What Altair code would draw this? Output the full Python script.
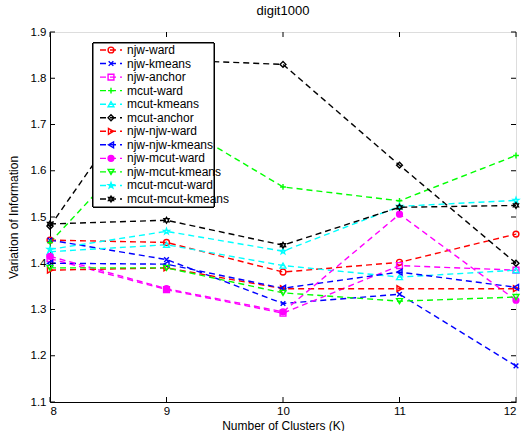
import math
import altair as alt
import pandas as pd

# ---------------- data ----------------
clusters = [8, 9, 10, 11, 12]
series_names = ["njw-ward", "njw-kmeans", "njw-anchor", "mcut-ward", "mcut-kmeans",
                "mcut-anchor", "njw-njw-ward", "njw-njw-kmeans", "njw-mcut-ward",
                "njw-mcut-kmeans", "mcut-mcut-ward", "mcut-mcut-kmeans"]
njw_ward = [1.450, 1.445, 1.381, 1.402, 1.463]
njw_kmeans = [1.450, 1.408, 1.313, 1.333, 1.178]
njw_anchor = [1.410, 1.343, 1.292, 1.395, 1.385]
mcut_ward = [1.445, 1.715, 1.565, 1.535, 1.633]
mcut_kmeans = [1.425, 1.440, 1.395, 1.370, 1.385]
mcut_anchor = [1.480, 1.840, 1.830, 1.612, 1.400]
njw_njw_ward = [1.385, 1.390, 1.345, 1.345, 1.345]
njw_njw_kmeans = [1.400, 1.398, 1.346, 1.381, 1.348]
njw_mcut_ward = [1.415, 1.345, 1.295, 1.506, 1.320]
njw_mcut_kmeans = [1.390, 1.390, 1.336, 1.318, 1.327]
mcut_mcut_ward = [1.430, 1.469, 1.426, 1.523, 1.536]
mcut_mcut_kmeans = [1.485, 1.493, 1.439, 1.521, 1.525]
y_ticks = [1.1, 1.2, 1.3, 1.4, 1.5, 1.6, 1.7, 1.8, 1.9]

all_values = [njw_ward, njw_kmeans, njw_anchor, mcut_ward, mcut_kmeans, mcut_anchor,
              njw_njw_ward, njw_njw_kmeans, njw_mcut_ward, njw_mcut_kmeans,
              mcut_mcut_ward, mcut_mcut_kmeans]

# ---------------- styles ----------------
colors = ["#ff0000", "#0000ff", "#ff00ff", "#00ff00", "#00ffff", "#000000",
          "#ff0000", "#0000ff", "#ff00ff", "#00ff00", "#00ffff", "#000000"]


def star_path(n, r_in):
    pts = []
    for k in range(2 * n):
        r = 1.0 if k % 2 == 0 else r_in
        a = -math.pi / 2 + k * math.pi / n
        pts.append((r * math.cos(a), r * math.sin(a)))
    return "M" + "L".join(f"{x:.3f},{y:.3f}" for x, y in pts) + "Z"


shapes = ["circle", "M-0.8,-0.8L0.8,0.8M-0.8,0.8L0.8,-0.8", "square", "M-1,0H1M0,-1V1",
          "triangle-up", "diamond", "triangle-right", "triangle-left", "circle",
          "triangle-down", star_path(5, 0.4), star_path(6, 0.58)]
fills = ["transparent"] * 8 + ["#ff00ff"] + ["transparent"] * 3
sizes = [34, 34, 30, 40, 30, 34, 30, 30, 22, 30, 55, 55]

rows = []
for name, vals in zip(series_names, all_values):
    for k, v in zip(clusters, vals):
        rows.append({"series": name, "K": k, "value": v})
df = pd.DataFrame(rows)
leg = pd.DataFrame({"series": series_names, "idx": list(range(len(series_names)))})

FONT = "Liberation Sans"
W, H = 466, 370

color_enc = alt.Color("series:N", scale=alt.Scale(domain=series_names, range=colors), legend=None)
shape_enc = alt.Shape("series:N", scale=alt.Scale(domain=series_names, range=shapes), legend=None)
fill_enc = alt.Fill("series:N", scale=alt.Scale(domain=series_names, range=fills), legend=None)
size_enc = alt.Size("series:N", scale=alt.Scale(domain=series_names, range=sizes), legend=None)

xscale = alt.Scale(domain=[8, 12], nice=False, zero=False)
yscale = alt.Scale(domain=[1.1, 1.9], nice=False, zero=False)

x_main = alt.X("K:Q", scale=xscale,
               axis=alt.Axis(values=clusters, format="d", title="Number of Clusters (K)",
                             grid=False, tickSize=0, labelPadding=3, domainColor="black",
                             labelColor="black", titleColor="black", labelFontSize=11.5,
                             titleFontSize=12, titleFontWeight="normal",
                             titleBaseline="alphabetic", titleY=27,
                             labelFont=FONT, titleFont=FONT))
y_main = alt.Y("value:Q", scale=yscale,
               axis=alt.Axis(values=y_ticks, format=".1f", title="Variation of Information",
                             grid=False, tickSize=0, labelPadding=4, domainColor="black",
                             labelColor="black", titleColor="black", labelFontSize=11.5,
                             titleFontSize=12, titleFontWeight="normal", titlePadding=10,
                             labelFont=FONT, titleFont=FONT))

lines = alt.Chart(df).mark_line(strokeDash=[6, 4], strokeWidth=1.4).encode(
    x=x_main, y=y_main, color=color_enc, detail="series:N")
points = alt.Chart(df).mark_point(strokeWidth=1.4, opacity=1).encode(
    x=alt.X("K:Q", scale=xscale), y=alt.Y("value:Q", scale=yscale),
    color=color_enc, shape=shape_enc, fill=fill_enc, size=size_enc)

xt = pd.DataFrame({"K": clusters})
yt = pd.DataFrame({"value": y_ticks})
xtick_b = alt.Chart(xt).mark_rule(color="black", strokeWidth=1).encode(
    x=alt.X("K:Q", scale=xscale), y=alt.value(H), y2=alt.value(H - 5))
xtick_t = alt.Chart(xt).mark_rule(color="black", strokeWidth=1).encode(
    x=alt.X("K:Q", scale=xscale), y=alt.value(0), y2=alt.value(5))
ytick_l = alt.Chart(yt).mark_rule(color="black", strokeWidth=1).encode(
    y=alt.Y("value:Q", scale=yscale), x=alt.value(0), x2=alt.value(5))
ytick_r = alt.Chart(yt).mark_rule(color="black", strokeWidth=1).encode(
    y=alt.Y("value:Q", scale=yscale), x=alt.value(W), x2=alt.value(W - 5))

main = alt.layer(lines, points, xtick_b, xtick_t, ytick_l, ytick_r)

# ---------------- legend (drawn inside the plot) ----------------
ly = alt.Y("idx:Q", scale=alt.Scale(domain=[0, 11], range=[18, 167], nice=False, zero=False), axis=None)
box = alt.Chart(leg).mark_rect(fill="white", stroke="black", strokeWidth=1).encode(
    x=alt.value(43), x2=alt.value(164), y=alt.value(11), y2=alt.value(175))
leg_line = alt.Chart(leg).mark_rule(strokeDash=[6, 4], strokeWidth=1.4).encode(
    x=alt.value(50), x2=alt.value(72), y=ly, color=color_enc)
leg_pt = alt.Chart(leg).mark_point(strokeWidth=1.4, opacity=1).encode(
    x=alt.value(61), y=ly, color=color_enc, shape=shape_enc, fill=fill_enc, size=size_enc)
leg_txt = alt.Chart(leg).mark_text(align="left", baseline="middle", font=FONT, fontSize=12,
                                   color="black").encode(
    x=alt.value(77), y=ly, text="series:N")
legend = alt.layer(box, leg_line, leg_pt, leg_txt)

chart = alt.layer(main, legend).resolve_scale(y="independent").properties(
    width=W, height=H,
    title=alt.TitleParams("digit1000", font=FONT, fontSize=13, fontWeight="normal",
                          color="black", anchor="middle", offset=8),
    autosize=alt.AutoSizeParams(type="none"),
    padding={"left": 50, "top": 32, "right": 9, "bottom": 29},
).configure_view(stroke="black", strokeWidth=1).configure(background="white")

chart.save("out.html", embed_options={"renderer": "svg", "actions": False})
